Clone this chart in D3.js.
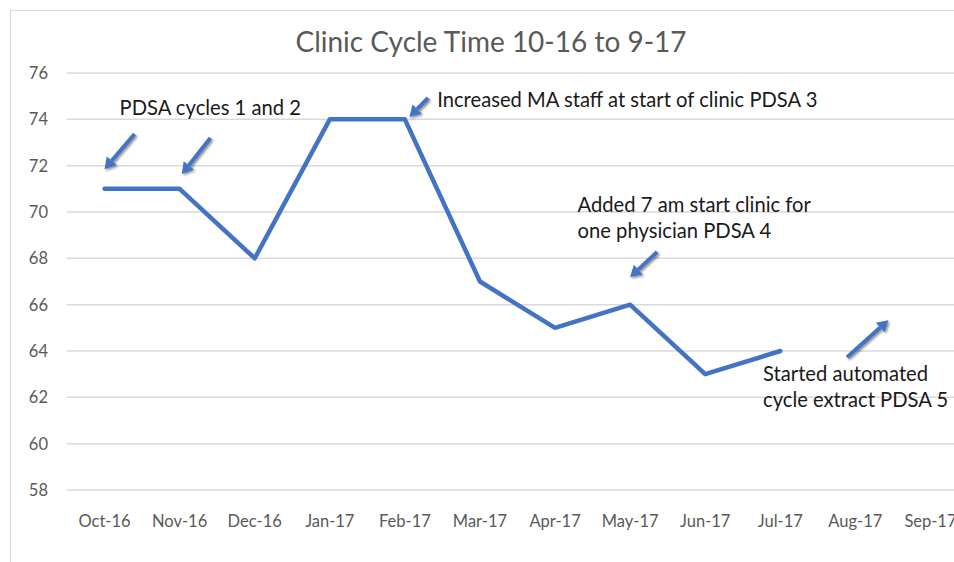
<!DOCTYPE html>
<html>
<head>
<meta charset="utf-8">
<script src="https://cdn.jsdelivr.net/npm/d3@7"></script>
<style>
  body { margin: 0; background: #fff; }
  svg { display: block; font-family: Lato, "Open Sans", sans-serif; }
</style>
</head>
<body>
<svg id="chart"></svg>
<script>
// chart data
const months = ["Oct-16", "Nov-16", "Dec-16", "Jan-17", "Feb-17", "Mar-17",
                "Apr-17", "May-17", "Jun-17", "Jul-17", "Aug-17", "Sep-17"];
const cycleTime = [71, 71, 68, 74, 74, 67, 65, 66, 63, 64];
const yTicks = [58, 60, 62, 64, 66, 68, 70, 72, 74, 76];
const title = "Clinic Cycle Time 10-16 to 9-17";

// annotation text: [month index, value, lines]
const notes = [
  [0.2, 74.2, ["PDSA cycles 1 and 2"]],
  [4.43, 74.53, ["Increased MA staff at start of clinic PDSA 3"]],
  [6.3, 70.0, ["Added 7 am start clinic for", "one physician PDSA 4"]],
  [8.77, 62.7, ["Started automated", "cycle extract PDSA 5"]]
];
// arrows: tail [index, value] -> tip [index, value]
const arrows = [
  [[0.40, 73.37], [0.0, 71.85]],
  [[1.41, 73.19], [1.03, 71.64]],
  [[4.31, 74.92], [4.06, 74.10]],
  [[7.36, 68.27], [7.0, 67.19]],
  [[9.89, 63.73], [10.44, 65.33]]
];

const width = 954, height = 562;
const blue = "#4472c4";

const svg = d3.select("#chart").attr("width", width).attr("height", height);

// shadow for arrows
const defs = svg.append("defs");
const f = defs.append("filter").attr("id", "shadow")
  .attr("x", "-50%").attr("y", "-50%").attr("width", "200%").attr("height", "200%");
f.append("feDropShadow").attr("dx", 1.5).attr("dy", 1.5).attr("stdDeviation", 1.2)
  .attr("flood-color", "#000").attr("flood-opacity", 0.45);

// chart border (right and bottom edges run off the picture)
svg.append("rect")
  .attr("x", 10.5).attr("y", 10.5)
  .attr("width", 1000).attr("height", 600)
  .attr("fill", "none").attr("stroke", "#d9d9d9");

const x = d3.scaleBand().domain(months).range([67, 968]);
const y = d3.scaleLinear().domain([58, 76]).range([490, 73]);
const cx = i => x(months[0]) + x.bandwidth() / 2 + i * x.step();

// title
svg.append("text")
  .attr("x", 491).attr("y", 52)
  .attr("text-anchor", "middle")
  .attr("font-size", 28)
  .attr("fill", "#595959")
  .text(title);

// grid lines
svg.append("g")
  .selectAll("line")
  .data(yTicks)
  .join("line")
  .attr("x1", 67).attr("x2", 968)
  .attr("y1", d => y(d)).attr("y2", d => y(d))
  .attr("stroke", "#d9d9d9").attr("stroke-width", 1.5);

// y labels
svg.append("g")
  .selectAll("text")
  .data(yTicks)
  .join("text")
  .attr("x", 48)
  .attr("y", d => y(d) + 6)
  .attr("text-anchor", "end")
  .attr("font-size", 16.5)
  .attr("fill", "#595959")
  .text(d => d);

// x labels
svg.append("g")
  .selectAll("text")
  .data(months)
  .join("text")
  .attr("x", d => x(d) + x.bandwidth() / 2)
  .attr("y", 527)
  .attr("text-anchor", "middle")
  .attr("font-size", 16.5)
  .attr("fill", "#595959")
  .text(d => d);

// the line
const line = d3.line()
  .x((d, i) => x(months[i]) + x.bandwidth() / 2)
  .y(d => y(d));

svg.append("path")
  .datum(cycleTime)
  .attr("d", line)
  .attr("fill", "none")
  .attr("stroke", blue)
  .attr("stroke-width", 4.5)
  .attr("stroke-linejoin", "round")
  .attr("stroke-linecap", "round");

// annotation arrows
const ag = svg.append("g").attr("filter", "url(#shadow)");
arrows.forEach(([t, h]) => {
  const x1 = cx(t[0]), y1 = y(t[1]), x2 = cx(h[0]), y2 = y(h[1]);
  const ang = Math.atan2(y2 - y1, x2 - x1);
  const len = 11, half = 6.5;
  const bx = x2 - len * Math.cos(ang), by = y2 - len * Math.sin(ang);
  ag.append("line")
    .attr("x1", x1).attr("y1", y1).attr("x2", bx).attr("y2", by)
    .attr("stroke", blue).attr("stroke-width", 4);
  const px = -Math.sin(ang), py = Math.cos(ang);
  ag.append("path")
    .attr("d", `M${x2},${y2}L${bx + px * half},${by + py * half}L${bx - px * half},${by - py * half}Z`)
    .attr("fill", blue);
});

// annotation text
notes.forEach(([i, v, lines]) => {
  const t = svg.append("text")
    .attr("x", cx(i)).attr("y", y(v))
    .attr("font-size", 20.2)
    .attr("fill", "#1a1a1a");
  lines.forEach((s, k) => {
    t.append("tspan").attr("x", cx(i)).attr("dy", k === 0 ? 0 : 26).text(s);
  });
});
</script>
</body>
</html>
